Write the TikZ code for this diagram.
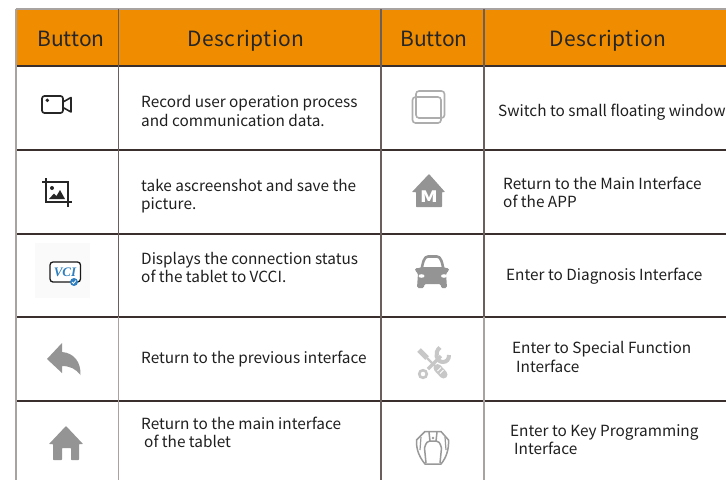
\documentclass[tikz,border=0pt]{standalone}
\usepackage{fontspec}
\setmainfont{Noto Sans CJK SC}
\definecolor{headfill}{HTML}{F08C00}
\definecolor{gridd}{HTML}{3A2F2C}
\definecolor{gridm}{HTML}{6A5F5C}
\definecolor{gridl}{HTML}{A8A2A0}
\definecolor{vciblue}{HTML}{2E7FC0}
\tikzset{
 x=1pt,y=-1pt,
 head/.style={inner sep=0,anchor=base,font=\fontsize{21}{21}\selectfont,text=black!85},
 txt/.style={inner sep=0,anchor=base west,font=\fontsize{15.35}{15.35}\selectfont,text=black!88},
 gd/.style={draw=gridd,line width=1.2pt},
 gm/.style={draw=gridm,line width=1.2pt},
 gl/.style={draw=gridl,line width=1.2pt},
 lineicon/.style={draw=black!40,line width=1.5pt,fill=none,line join=round}
}
\begin{document}
\begin{tikzpicture}
\useasboundingbox (0,0) rectangle (726,480);
\fill[white] (0,0) rectangle (726,480);
\fill[headfill] (16,9.5) rectangle (726,66);
% grid
\draw[gl] (15.5,9) -- (726,9);
\draw[gd] (15.5,66) -- (726,66);
\foreach \yy in {150,234,317,401} \draw[gd] (15.5,\yy) -- (726,\yy);
\draw[gl] (16,9) -- (16,480);
\draw[gm] (118.5,9) -- (118.5,317);
\draw[gl] (118.5,317) -- (118.5,480);
\draw[gm] (381,9) -- (381,480);
\draw[gm] (484,9) -- (484,317);
\draw[gl] (484,317) -- (484,480);
% headers
\node[head] (h1) at (71,46) {Button};
\node[head] (h2) at (246,46) {\addfontfeature{LetterSpace=2}Description};
\node[head] (h3) at (434,46) {Button};
\node[head] (h4) at (608,46) {\addfontfeature{LetterSpace=2}Description};
% text left
\node[txt] (a1) at (141,107.7) {Record user operation process};
\node[txt] (a2) at (141,126) {and communication data.};
\node[txt] (b1) at (141,191.7) {take ascreenshot and save the};
\node[txt] (b2) at (141,209.7) {picture.};
\node[txt] (c1) at (141,264) {Displays the connection status};
\node[txt] (c2) at (141,282.4) {of the tablet to VCCI.};
\node[txt] (d1) at (141,363.4) {Return to the previous interface};
\node[txt] (e1) at (141,429.4) {Return to the main interface};
\node[txt] (e2) at (144,447.4) {of the tablet};
% text right
\node[txt] (f1) at (498,116.4) {Switch to small floating window};
\node[txt] (g1) at (503,189.4) {Return to the Main Interface};
\node[txt] (g2) at (503,207.4) {of the APP};
\node[txt] (h5) at (506,280.4) {Enter to Diagnosis Interface};
\node[txt] (i1) at (512,353.4) {Enter to Special Function};
\node[txt] (i2) at (516,372.4) {Interface};
\node[txt] (j1) at (510,436.4) {Enter to Key Programming};
\node[txt] (j2) at (514,454.4) {Interface};
% camera
\draw[black!85,line width=1.7pt,rounded corners=2.5pt] (42,96) rectangle (63,113);
\draw[black!85,line width=1.6pt,line join=round] (63,102) -- (71,97.5) -- (71,112) -- (63,107.5);
\fill[black!85] (47.3,100.3) circle (1.9);
% crop
\draw[black!85,line width=1.6pt] (46,178) -- (46,202) -- (72,202) (42,182) -- (68,182) -- (68,207);
\fill[black!85] (52,188) circle (2);
\fill[black!85] (49,199) -- (54,193.5) -- (56.5,196) -- (60,190) -- (65,199) -- cycle;
% VCI
\fill[black!2] (35,243) rectangle (90,298);
\draw[black!90,line width=1.3pt,rounded corners=3pt,fill=white] (50,262) rectangle (80.5,282);
\node[inner sep=0,text=vciblue] (vci) at (65,272) {\fontspec{Liberation Serif}\fontsize{13}{13}\selectfont\itshape\bfseries VCI};
\fill[vciblue] (74,282) circle (4);
\draw[white,line width=.8pt] (72,282) -- (73.5,283.5) -- (76,280.5);
% back arrow
\fill[black!42] (47,359) -- (62,343) -- (62,352) .. controls (74,353) and (81,362) .. (80.5,375) .. controls (76,369) and (70,366) .. (62,366) -- (62,373) -- cycle;
% home
\fill[black!42,rounded corners=.6pt] (66,426) -- (83,444) -- (79,444) -- (79,460) -- (71,460) -- (71,448) -- (62,448) -- (62,460) -- (53,460) -- (53,444) -- (49,444) -- cycle;
% floating window
\draw[lineicon,draw=black!32,line width=1.6pt,rounded corners=3pt] (416,91) rectangle (444.5,118);
\draw[lineicon,draw=black!32,line width=1.6pt,rounded corners=3pt] (412.5,97) rectangle (441,123);
% M home
\fill[black!42,rounded corners=.6pt] (429,174) -- (445,192) -- (442,192) -- (442,207) -- (416,207) -- (416,192) -- (412,192) -- cycle;
\node[inner sep=0,text=white,xscale=1.35,yscale=1.05] (mm) at (429,197) {\fontsize{15}{15}\selectfont\bfseries M};
% car
\draw[black!42,line width=2.6pt,line join=round] (421,272) .. controls (423,262) and (424,256.5) .. (428,256.5) -- (437,256.5) .. controls (441,256.5) and (442,262) .. (444,272);
\fill[black!42,rounded corners=1.5pt] (415,268) -- (420,268) -- (422,267) -- (443,267) -- (445,268) -- (449,268) -- (449,271) -- (446,273) -- (447,288) -- (441,288) -- (441,284) -- (424,284) -- (424,288) -- (417,288) -- (418,273) -- (415,271) -- cycle;
\fill[white] (421.5,276) ellipse (3 and 1.8);
\fill[white] (444,276) ellipse (3 and 1.8);
% tools
\draw[black!22,line width=5pt] (419,350) -- (427,358);
\draw[black!22,line width=2.4pt] (427,358) -- (441,372);
\draw[black!22,line width=8pt,line cap=round] (437.5,368) -- (443.5,374.5);
\draw[white,line width=.9pt] (437.5,371) -- (441,367.5) (440,373.5) -- (443.5,370);
\draw[black!22,line width=3.4pt] (428,369) -- (441,356);
\draw[black!22,line width=2.6pt] (423,374) circle (3.8);
\draw[black!22,line width=4pt] (440,347.5) .. controls (434,352) and (436,362) .. (443,362) .. controls (447,362) and (449,359) .. (449,355);
% key fob
\draw[lineicon] (425,431.5) -- (441,431.5) -- (448.5,440) .. controls (449,450) and (446,458) .. (441,464) -- (425,464) .. controls (420,458) and (416,450) .. (416.5,440) -- cycle;
\draw[lineicon] (429,432) -- (430,441) -- (436,441) -- (437,432);
\draw[lineicon] (424.5,448) .. controls (426,442) and (428,441) .. (430,441) (436,441) .. controls (438,441) and (440,442) .. (441.5,448) -- (440,463) (424.5,448) -- (426,463);
\draw[lineicon,line width=1.2pt] (421,437) -- (420,450) (445,437) -- (446,450);
\fill[black!40] (433,438) circle (1.3);
\end{tikzpicture}
\end{document}
